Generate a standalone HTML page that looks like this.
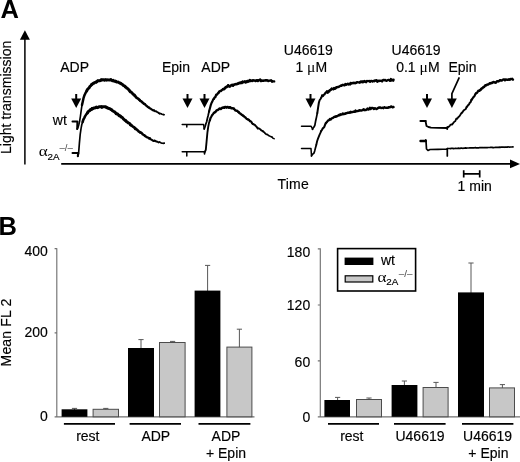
<!DOCTYPE html>
<html><head><meta charset="utf-8"><title>Figure</title>
<style>
html,body{margin:0;padding:0;background:#fff;}
svg{display:block;}
text{font-family:"Liberation Sans",Arial,sans-serif;fill:#000;}
.t{font-size:14px;stroke:#000;stroke-width:0.15px;}
.s{font-size:9px;stroke:#000;stroke-width:0.15px;}
.sup{fill:#444;stroke:none;}
.a{font-size:14.5px;}
.mu{font-size:15.5px;stroke-width:0;}
.gr{font-family:"Liberation Serif","DejaVu Serif",serif;}
.b{font-size:25.5px;font-weight:bold;}
</style></head><body>
<svg width="520" height="462" viewBox="0 0 520 462">
<rect width="520" height="462" fill="#fff"/>
<!-- Panel A -->
<text class="b" x="0.4" y="17.8">A</text>
<text class="t" transform="translate(10.5,154) rotate(-90)" letter-spacing="0.03">Light transmission</text>
<line x1="24.9" y1="38" x2="24.9" y2="164.5" stroke="#000" stroke-width="1.5"/>
<polygon points="24.9,30.3 19.9,39.8 29.9,39.8" fill="#000"/>
<line x1="61.2" y1="163.9" x2="512" y2="163.9" stroke="#000" stroke-width="1.7"/>
<polygon points="520,163.9 510,159.5 510,168.3" fill="#000"/>
<text class="t" x="60.2" y="71.8">ADP</text>
<text class="t" x="161.9" y="71.8">Epin</text>
<text class="t" x="201.3" y="71.8">ADP</text>
<text class="t" x="283.8" y="54.6">U46619</text>
<text class="t" x="295.4" y="71.8">1 <tspan class="gr mu">μ</tspan><tspan dx="0.2">M</tspan></text>
<text class="t" x="391.6" y="54.6">U46619</text>
<text class="t" x="396.2" y="71.8">0.1 <tspan class="gr mu">μ</tspan><tspan dx="0.2">M</tspan></text>
<text class="t" x="448.5" y="71.8">Epin</text>
<text class="t" x="52.8" y="124.6">wt</text>
<text class="gr a" x="38.8" y="156.2" textLength="9" lengthAdjust="spacingAndGlyphs">α</text><text class="s" x="47.5" y="160.4" textLength="12" lengthAdjust="spacingAndGlyphs">2A</text><text class="s sup" x="59.5" y="151.2" textLength="13.4" lengthAdjust="spacingAndGlyphs">–/–</text>
<text class="t" x="277.5" y="188.9" letter-spacing="0.2">Time</text>
<text class="t" x="457.6" y="191.4">1 min</text>
<path d="M463.6,173.9H479.8M463.7,170.3V177.6M479.7,170.3V177.6" stroke="#000" stroke-width="1.7" fill="none"/>
<polyline points="72.5,121.5 77.4,121.5 77.2,129.0 77.2,129.0" fill="none" stroke="#000" stroke-width="2.0" stroke-linejoin="round" stroke-linecap="round" />
<polyline points="77.2,129.0 78.0,127.6 78.8,124.8 79.6,121.3 80.4,116.3 81.2,110.3 82.0,105.0" fill="none" stroke="#000" stroke-width="1.63" stroke-linejoin="round" stroke-linecap="round" />
<polyline points="82.0,105.0 82.8,101.4 83.6,97.8 84.4,95.4 85.2,93.7 86.0,92.2 86.8,90.8" fill="none" stroke="#000" stroke-width="2.48" stroke-linejoin="round" stroke-linecap="round" />
<polyline points="86.8,90.8 87.6,89.3 88.4,88.5 89.2,87.7 90.0,86.3 90.8,85.7 91.6,84.6" fill="none" stroke="#000" stroke-width="2.93" stroke-linejoin="round" stroke-linecap="round" />
<polyline points="91.6,84.6 92.4,84.0 93.2,83.3 94.0,83.2 94.8,82.4 95.6,82.3 96.4,81.9" fill="none" stroke="#000" stroke-width="2.99" stroke-linejoin="round" stroke-linecap="round" />
<polyline points="96.4,81.9 97.2,81.4 98.0,80.6 98.8,80.8 99.6,80.7 100.4,80.5 101.2,79.9" fill="none" stroke="#000" stroke-width="2.98" stroke-linejoin="round" stroke-linecap="round" />
<polyline points="101.2,79.9 102.0,80.0 102.8,79.7 103.6,79.7 104.4,80.2 105.2,79.7 106.0,79.9" fill="none" stroke="#000" stroke-width="2.97" stroke-linejoin="round" stroke-linecap="round" />
<polyline points="106.0,79.9 106.8,80.1 107.6,79.8 108.4,79.9 109.2,79.9 110.0,79.9 110.8,79.7" fill="none" stroke="#000" stroke-width="2.95" stroke-linejoin="round" stroke-linecap="round" />
<polyline points="110.8,79.7 111.6,80.2 112.4,80.7 113.2,80.3 114.0,81.1 114.8,81.2 115.6,81.2" fill="none" stroke="#000" stroke-width="2.94" stroke-linejoin="round" stroke-linecap="round" />
<polyline points="115.6,81.2 116.4,82.1 117.2,82.1 118.0,81.9 118.8,82.5 119.6,83.0 120.4,83.2" fill="none" stroke="#000" stroke-width="2.93" stroke-linejoin="round" stroke-linecap="round" />
<polyline points="120.4,83.2 121.2,83.8 122.0,84.1 122.8,84.8 123.6,85.6 124.4,85.8 125.2,86.7" fill="none" stroke="#000" stroke-width="2.92" stroke-linejoin="round" stroke-linecap="round" />
<polyline points="125.2,86.7 126.0,87.3 126.8,88.1 127.6,88.5 128.4,89.4 129.2,90.2 130.0,91.3" fill="none" stroke="#000" stroke-width="2.91" stroke-linejoin="round" stroke-linecap="round" />
<polyline points="130.0,91.3 130.8,92.2 131.6,92.3 132.4,93.3 133.2,94.4 134.0,94.6 134.8,95.7" fill="none" stroke="#000" stroke-width="2.82" stroke-linejoin="round" stroke-linecap="round" />
<polyline points="134.8,95.7 135.6,96.5 136.4,97.6 137.2,98.1 138.0,98.6 138.8,99.3 139.6,100.0" fill="none" stroke="#000" stroke-width="2.65" stroke-linejoin="round" stroke-linecap="round" />
<polyline points="139.6,100.0 140.4,101.1 141.2,101.3 142.0,102.0 142.8,102.8 143.6,103.4 144.4,104.0" fill="none" stroke="#000" stroke-width="2.48" stroke-linejoin="round" stroke-linecap="round" />
<polyline points="144.4,104.0 145.2,104.4 146.0,105.4 146.8,105.9 147.6,106.9 148.4,107.3 149.2,107.7" fill="none" stroke="#000" stroke-width="2.31" stroke-linejoin="round" stroke-linecap="round" />
<polyline points="149.2,107.7 150.0,108.4 150.8,108.7 151.6,109.5 152.4,109.8 153.2,110.4 154.0,110.4" fill="none" stroke="#000" stroke-width="2.12" stroke-linejoin="round" stroke-linecap="round" />
<polyline points="154.0,110.4 154.8,111.2 155.6,111.1 156.4,111.4 157.2,112.2 158.0,112.4 158.8,113.0" fill="none" stroke="#000" stroke-width="1.88" stroke-linejoin="round" stroke-linecap="round" />
<polyline points="158.8,113.0 159.6,113.8 160.4,113.4 161.2,113.7 162.0,114.2 162.8,114.5 163.6,114.6" fill="none" stroke="#000" stroke-width="1.64" stroke-linejoin="round" stroke-linecap="round" />
<polyline points="163.6,114.6 164.2,114.7" fill="none" stroke="#000" stroke-width="1.5" stroke-linejoin="round" stroke-linecap="round" />
<polyline points="72.5,153.0 78.2,153.0 77.8,156.0 77.8,156.2" fill="none" stroke="#000" stroke-width="2.0" stroke-linejoin="round" stroke-linecap="round" />
<polyline points="77.8,156.2 78.6,153.4 79.4,143.1 80.2,134.4 81.0,128.8 81.8,124.5 82.6,122.0" fill="none" stroke="#000" stroke-width="1.66" stroke-linejoin="round" stroke-linecap="round" />
<polyline points="82.6,122.0 83.4,119.5 84.2,118.1 85.0,116.4 85.8,115.1 86.6,113.8 87.4,113.0" fill="none" stroke="#000" stroke-width="2.55" stroke-linejoin="round" stroke-linecap="round" />
<polyline points="87.4,113.0 88.2,111.6 89.0,111.0 89.8,110.7 90.6,109.4 91.4,109.6 92.2,108.5" fill="none" stroke="#000" stroke-width="2.98" stroke-linejoin="round" stroke-linecap="round" />
<polyline points="92.2,108.5 93.0,108.7 93.8,108.0 94.6,108.1 95.4,107.7 96.2,107.1 97.0,107.6" fill="none" stroke="#000" stroke-width="2.99" stroke-linejoin="round" stroke-linecap="round" />
<polyline points="97.0,107.6 97.8,107.5 98.6,107.0 99.4,106.8 100.2,106.8 101.0,106.6 101.8,107.1" fill="none" stroke="#000" stroke-width="2.98" stroke-linejoin="round" stroke-linecap="round" />
<polyline points="101.8,107.1 102.6,106.7 103.4,106.8 104.2,106.7 105.0,106.7 105.8,106.7 106.6,107.6" fill="none" stroke="#000" stroke-width="2.96" stroke-linejoin="round" stroke-linecap="round" />
<polyline points="106.6,107.6 107.4,107.6 108.2,108.3 109.0,108.5 109.8,108.7 110.6,109.3 111.4,109.7" fill="none" stroke="#000" stroke-width="2.95" stroke-linejoin="round" stroke-linecap="round" />
<polyline points="111.4,109.7 112.2,110.4 113.0,110.9 113.8,111.5 114.6,111.9 115.4,112.6 116.2,113.7" fill="none" stroke="#000" stroke-width="2.94" stroke-linejoin="round" stroke-linecap="round" />
<polyline points="116.2,113.7 117.0,113.7 117.8,114.1 118.6,115.1 119.4,115.9 120.2,115.8 121.0,116.8" fill="none" stroke="#000" stroke-width="2.93" stroke-linejoin="round" stroke-linecap="round" />
<polyline points="121.0,116.8 121.8,117.3 122.6,117.8 123.4,119.1 124.2,119.6 125.0,120.3 125.8,120.8" fill="none" stroke="#000" stroke-width="2.92" stroke-linejoin="round" stroke-linecap="round" />
<polyline points="125.8,120.8 126.6,121.7 127.4,122.1 128.2,122.8 129.0,123.1 129.8,123.7 130.6,125.0" fill="none" stroke="#000" stroke-width="2.9" stroke-linejoin="round" stroke-linecap="round" />
<polyline points="130.6,125.0 131.4,125.2 132.2,126.0 133.0,126.6 133.8,127.1 134.6,127.8 135.4,128.7" fill="none" stroke="#000" stroke-width="2.8" stroke-linejoin="round" stroke-linecap="round" />
<polyline points="135.4,128.7 136.2,129.1 137.0,129.7 137.8,130.4 138.6,131.3 139.4,131.8 140.2,132.4" fill="none" stroke="#000" stroke-width="2.63" stroke-linejoin="round" stroke-linecap="round" />
<polyline points="140.2,132.4 141.0,132.7 141.8,133.1 142.6,134.3 143.4,134.8 144.2,135.1 145.0,135.9" fill="none" stroke="#000" stroke-width="2.46" stroke-linejoin="round" stroke-linecap="round" />
<polyline points="145.0,135.9 145.8,136.5 146.6,137.0 147.4,137.5 148.2,137.7 149.0,138.6 149.8,138.3" fill="none" stroke="#000" stroke-width="2.29" stroke-linejoin="round" stroke-linecap="round" />
<polyline points="149.8,138.3 150.6,139.3 151.4,139.6 152.2,140.1 153.0,140.7 153.8,141.0 154.6,140.7" fill="none" stroke="#000" stroke-width="2.09" stroke-linejoin="round" stroke-linecap="round" />
<polyline points="154.6,140.7 155.4,140.8 156.2,141.7 157.0,141.5 157.8,142.0 158.6,142.5 159.4,142.1" fill="none" stroke="#000" stroke-width="1.85" stroke-linejoin="round" stroke-linecap="round" />
<polyline points="159.4,142.1 160.2,142.2 161.0,143.0 161.8,143.1 162.6,143.2 163.4,143.4 164.2,143.3" fill="none" stroke="#000" stroke-width="1.61" stroke-linejoin="round" stroke-linecap="round" />
<polyline points="164.2,143.3 164.2,143.1" fill="none" stroke="#000" stroke-width="1.5" stroke-linejoin="round" stroke-linecap="round" />
<polyline points="182.2,124.5 186.8,124.5 186.8,127.0 186.8,124.5 203.6,124.5 204.2,129.0 204.2,128.9" fill="none" stroke="#000" stroke-width="1.5" stroke-linejoin="round" stroke-linecap="round" />
<polyline points="204.2,128.9 205.0,126.7 205.8,124.0 206.6,122.0 207.4,118.4 208.2,115.3 209.0,111.6" fill="none" stroke="#000" stroke-width="1.8" stroke-linejoin="round" stroke-linecap="round" />
<polyline points="209.0,111.6 209.8,108.7 210.6,105.7 211.4,103.3 212.2,101.8 213.0,99.8 213.8,98.9" fill="none" stroke="#000" stroke-width="2.16" stroke-linejoin="round" stroke-linecap="round" />
<polyline points="213.8,98.9 214.6,97.6 215.4,97.1 216.2,94.7 217.0,94.7 217.8,93.5 218.6,92.7" fill="none" stroke="#000" stroke-width="2.33" stroke-linejoin="round" stroke-linecap="round" />
<polyline points="218.6,92.7 219.4,91.4 220.2,91.1 221.0,91.0 221.8,90.0 222.6,89.6 223.4,89.0" fill="none" stroke="#000" stroke-width="2.48" stroke-linejoin="round" stroke-linecap="round" />
<polyline points="223.4,89.0 224.2,89.1 225.0,88.2 225.8,87.0 226.6,87.2 227.4,86.3 228.2,85.5" fill="none" stroke="#000" stroke-width="2.6" stroke-linejoin="round" stroke-linecap="round" />
<polyline points="228.2,85.5 229.0,86.3 229.8,86.7 230.6,85.9 231.4,85.1 232.2,84.9 233.0,85.5" fill="none" stroke="#000" stroke-width="2.6" stroke-linejoin="round" stroke-linecap="round" />
<polyline points="233.0,85.5 233.8,84.8 234.6,84.5 235.4,84.2 236.2,84.0 237.0,84.1 237.8,83.7" fill="none" stroke="#000" stroke-width="2.6" stroke-linejoin="round" stroke-linecap="round" />
<polyline points="237.8,83.7 238.6,83.4 239.4,82.7 240.2,83.1 241.0,82.4 241.8,83.0 242.6,81.8" fill="none" stroke="#000" stroke-width="2.6" stroke-linejoin="round" stroke-linecap="round" />
<polyline points="242.6,81.8 243.4,82.1 244.2,82.0 245.0,81.3 245.8,82.4 246.6,82.1 247.4,81.2" fill="none" stroke="#000" stroke-width="2.6" stroke-linejoin="round" stroke-linecap="round" />
<polyline points="247.4,81.2 248.2,81.6 249.0,81.3 249.8,80.0 250.6,81.0 251.4,80.8 252.2,80.8" fill="none" stroke="#000" stroke-width="2.6" stroke-linejoin="round" stroke-linecap="round" />
<polyline points="252.2,80.8 253.0,80.3 253.8,80.5 254.6,80.5 255.4,81.0 256.2,80.6 257.0,80.4" fill="none" stroke="#000" stroke-width="2.6" stroke-linejoin="round" stroke-linecap="round" />
<polyline points="257.0,80.4 257.8,81.0 258.6,80.2 259.4,80.2 260.2,79.7 261.0,81.0 261.8,80.8" fill="none" stroke="#000" stroke-width="2.6" stroke-linejoin="round" stroke-linecap="round" />
<polyline points="261.8,80.8 262.6,80.8 263.4,80.7 264.2,80.4 265.0,80.5 265.8,80.3 266.6,80.3" fill="none" stroke="#000" stroke-width="2.52" stroke-linejoin="round" stroke-linecap="round" />
<polyline points="266.6,80.3 267.4,80.4 268.2,81.0 269.0,80.7 269.8,80.6 270.6,80.5 271.4,80.6" fill="none" stroke="#000" stroke-width="2.42" stroke-linejoin="round" stroke-linecap="round" />
<polyline points="271.4,80.6 272.2,81.7 273.0,81.4 273.8,81.4 274.2,81.4" fill="none" stroke="#000" stroke-width="2.34" stroke-linejoin="round" stroke-linecap="round" />
<polyline points="182.2,151.8 186.8,151.8 186.8,156.0 186.8,151.8 204.2,151.8 204.5,154.0 205.0,151.8 205.0,151.5" fill="none" stroke="#000" stroke-width="1.5" stroke-linejoin="round" stroke-linecap="round" />
<polyline points="205.0,151.5 205.8,149.9 206.6,141.3 207.4,132.7 208.2,127.0 209.0,122.9 209.8,120.3" fill="none" stroke="#000" stroke-width="1.86" stroke-linejoin="round" stroke-linecap="round" />
<polyline points="209.8,120.3 210.6,117.8 211.4,116.5 212.2,114.9 213.0,114.3 213.8,112.8 214.6,112.5" fill="none" stroke="#000" stroke-width="2.2" stroke-linejoin="round" stroke-linecap="round" />
<polyline points="214.6,112.5 215.4,112.0 216.2,110.8 217.0,110.2 217.8,110.0 218.6,109.5 219.4,108.8" fill="none" stroke="#000" stroke-width="2.32" stroke-linejoin="round" stroke-linecap="round" />
<polyline points="219.4,108.8 220.2,108.8 221.0,109.0 221.8,108.0 222.6,107.8 223.4,107.4 224.2,107.7" fill="none" stroke="#000" stroke-width="2.43" stroke-linejoin="round" stroke-linecap="round" />
<polyline points="224.2,107.7 225.0,107.1 225.8,107.0 226.6,107.6 227.4,106.9 228.2,107.4 229.0,107.6" fill="none" stroke="#000" stroke-width="2.48" stroke-linejoin="round" stroke-linecap="round" />
<polyline points="229.0,107.6 229.8,107.2 230.6,107.5 231.4,108.3 232.2,108.1 233.0,108.4 233.8,108.7" fill="none" stroke="#000" stroke-width="2.44" stroke-linejoin="round" stroke-linecap="round" />
<polyline points="233.8,108.7 234.6,109.5 235.4,110.4 236.2,110.8 237.0,110.8 237.8,111.4 238.6,112.2" fill="none" stroke="#000" stroke-width="2.39" stroke-linejoin="round" stroke-linecap="round" />
<polyline points="238.6,112.2 239.4,113.0 240.2,113.5 241.0,114.2 241.8,114.9 242.6,115.3 243.4,115.9" fill="none" stroke="#000" stroke-width="2.34" stroke-linejoin="round" stroke-linecap="round" />
<polyline points="243.4,115.9 244.2,116.6 245.0,117.1 245.8,117.9 246.6,118.9 247.4,119.1 248.2,119.6" fill="none" stroke="#000" stroke-width="2.28" stroke-linejoin="round" stroke-linecap="round" />
<polyline points="248.2,119.6 249.0,119.8 249.8,121.1 250.6,121.1 251.4,122.0 252.2,123.4 253.0,124.0" fill="none" stroke="#000" stroke-width="2.14" stroke-linejoin="round" stroke-linecap="round" />
<polyline points="253.0,124.0 253.8,124.5 254.6,124.7 255.4,125.7 256.2,126.3 257.0,127.3 257.8,128.4" fill="none" stroke="#000" stroke-width="1.99" stroke-linejoin="round" stroke-linecap="round" />
<polyline points="257.8,128.4 258.6,128.4 259.4,128.7 260.2,129.2 261.0,130.1 261.8,130.6 262.6,130.9" fill="none" stroke="#000" stroke-width="1.85" stroke-linejoin="round" stroke-linecap="round" />
<polyline points="262.6,130.9 263.4,131.9 264.2,132.1 265.0,133.3 265.8,133.9 266.6,134.4 267.4,134.5" fill="none" stroke="#000" stroke-width="1.71" stroke-linejoin="round" stroke-linecap="round" />
<polyline points="267.4,134.5 268.2,135.3 269.0,135.7 269.8,136.1 270.6,136.6 271.4,136.8 272.2,137.2" fill="none" stroke="#000" stroke-width="1.56" stroke-linejoin="round" stroke-linecap="round" />
<polyline points="272.2,137.2 273.0,138.3 273.8,138.4 274.2,138.8" fill="none" stroke="#000" stroke-width="1.44" stroke-linejoin="round" stroke-linecap="round" />
<polyline points="301.5,126.2 311.0,126.2 312.5,128.8 312.5,129.3" fill="none" stroke="#000" stroke-width="1.5" stroke-linejoin="round" stroke-linecap="round" />
<polyline points="312.5,129.3 313.3,127.6 314.1,126.9 314.9,125.2 315.7,120.7 316.5,117.1 317.3,113.1" fill="none" stroke="#000" stroke-width="1.75" stroke-linejoin="round" stroke-linecap="round" />
<polyline points="317.3,113.1 318.1,107.6 318.9,102.5 319.7,100.0 320.5,99.0 321.3,97.6 322.1,95.5" fill="none" stroke="#000" stroke-width="1.99" stroke-linejoin="round" stroke-linecap="round" />
<polyline points="322.1,95.5 322.9,96.1 323.7,94.9 324.5,94.4 325.3,93.0 326.1,92.5 326.9,91.5" fill="none" stroke="#000" stroke-width="2.18" stroke-linejoin="round" stroke-linecap="round" />
<polyline points="326.9,91.5 327.7,92.7 328.5,91.0 329.3,91.4 330.1,89.9 330.9,89.9 331.7,88.7" fill="none" stroke="#000" stroke-width="2.37" stroke-linejoin="round" stroke-linecap="round" />
<polyline points="331.7,88.7 332.5,89.0 333.3,89.3 334.1,88.0 334.9,88.8 335.7,88.2 336.5,87.3" fill="none" stroke="#000" stroke-width="2.39" stroke-linejoin="round" stroke-linecap="round" />
<polyline points="336.5,87.3 337.3,87.2 338.1,87.0 338.9,86.8 339.7,86.2 340.5,85.8 341.3,85.7" fill="none" stroke="#000" stroke-width="2.39" stroke-linejoin="round" stroke-linecap="round" />
<polyline points="341.3,85.7 342.1,85.1 342.9,84.8 343.7,85.1 344.5,85.4 345.3,84.1 346.1,84.6" fill="none" stroke="#000" stroke-width="2.38" stroke-linejoin="round" stroke-linecap="round" />
<polyline points="346.1,84.6 346.9,84.2 347.7,83.8 348.5,84.5 349.3,83.7 350.1,84.4 350.9,83.1" fill="none" stroke="#000" stroke-width="2.37" stroke-linejoin="round" stroke-linecap="round" />
<polyline points="350.9,83.1 351.7,83.5 352.5,83.1 353.3,82.7 354.1,83.2 354.9,82.8 355.7,83.0" fill="none" stroke="#000" stroke-width="2.36" stroke-linejoin="round" stroke-linecap="round" />
<polyline points="355.7,83.0 356.5,82.6 357.3,82.1 358.1,82.4 358.9,82.4 359.7,82.7 360.5,81.8" fill="none" stroke="#000" stroke-width="2.36" stroke-linejoin="round" stroke-linecap="round" />
<polyline points="360.5,81.8 361.3,82.1 362.1,81.3 362.9,82.3 363.7,81.4 364.5,81.0 365.3,81.8" fill="none" stroke="#000" stroke-width="2.35" stroke-linejoin="round" stroke-linecap="round" />
<polyline points="365.3,81.8 366.1,82.2 366.9,81.0 367.7,81.1 368.5,81.2 369.3,81.0 370.1,81.6" fill="none" stroke="#000" stroke-width="2.34" stroke-linejoin="round" stroke-linecap="round" />
<polyline points="370.1,81.6 370.9,81.0 371.7,81.0 372.5,81.5 373.3,80.9 374.1,81.3 374.9,80.7" fill="none" stroke="#000" stroke-width="2.33" stroke-linejoin="round" stroke-linecap="round" />
<polyline points="374.9,80.7 375.7,80.5 376.5,80.2 377.3,81.8 378.1,80.7 378.9,81.0 379.7,80.8" fill="none" stroke="#000" stroke-width="2.33" stroke-linejoin="round" stroke-linecap="round" />
<polyline points="379.7,80.8 380.5,80.8 381.3,80.7 382.1,81.5 382.9,80.2 383.7,79.9 384.5,80.1" fill="none" stroke="#000" stroke-width="2.32" stroke-linejoin="round" stroke-linecap="round" />
<polyline points="384.5,80.1 385.3,79.9 386.1,80.8 386.9,80.8 387.7,80.0 388.5,79.8 389.3,80.2" fill="none" stroke="#000" stroke-width="2.31" stroke-linejoin="round" stroke-linecap="round" />
<polyline points="389.3,80.2 390.1,80.9 390.9,79.0 391.7,80.5 392.5,79.8 393.3,80.7 393.6,79.7" fill="none" stroke="#000" stroke-width="2.3" stroke-linejoin="round" stroke-linecap="round" />
<polyline points="301.5,148.6 311.0,148.6 311.5,156.0 311.5,155.9" fill="none" stroke="#000" stroke-width="1.5" stroke-linejoin="round" stroke-linecap="round" />
<polyline points="311.5,155.9 312.3,154.6 313.1,153.7 313.9,153.3 314.7,150.9 315.5,147.8 316.3,144.9" fill="none" stroke="#000" stroke-width="1.71" stroke-linejoin="round" stroke-linecap="round" />
<polyline points="316.3,144.9 317.1,141.2 317.9,138.9 318.7,136.9 319.5,134.9 320.3,133.2 321.1,131.1" fill="none" stroke="#000" stroke-width="1.88" stroke-linejoin="round" stroke-linecap="round" />
<polyline points="321.1,131.1 321.9,130.0 322.7,128.6 323.5,127.8 324.3,126.8 325.1,124.6 325.9,123.1" fill="none" stroke="#000" stroke-width="2.06" stroke-linejoin="round" stroke-linecap="round" />
<polyline points="325.9,123.1 326.7,122.3 327.5,121.2 328.3,120.4 329.1,120.1 329.9,119.0 330.7,119.3" fill="none" stroke="#000" stroke-width="2.25" stroke-linejoin="round" stroke-linecap="round" />
<polyline points="330.7,119.3 331.5,118.5 332.3,118.2 333.1,117.7 333.9,117.1 334.7,116.7 335.5,116.7" fill="none" stroke="#000" stroke-width="2.4" stroke-linejoin="round" stroke-linecap="round" />
<polyline points="335.5,116.7 336.3,116.2 337.1,116.2 337.9,115.8 338.7,115.0 339.5,115.3 340.3,114.5" fill="none" stroke="#000" stroke-width="2.39" stroke-linejoin="round" stroke-linecap="round" />
<polyline points="340.3,114.5 341.1,114.6 341.9,114.5 342.7,113.5 343.5,114.2 344.3,114.0 345.1,113.7" fill="none" stroke="#000" stroke-width="2.38" stroke-linejoin="round" stroke-linecap="round" />
<polyline points="345.1,113.7 345.9,113.3 346.7,113.2 347.5,112.7 348.3,112.8 349.1,112.5 349.9,112.6" fill="none" stroke="#000" stroke-width="2.37" stroke-linejoin="round" stroke-linecap="round" />
<polyline points="349.9,112.6 350.7,111.8 351.5,112.3 352.3,112.1 353.1,111.8 353.9,111.5 354.7,111.8" fill="none" stroke="#000" stroke-width="2.37" stroke-linejoin="round" stroke-linecap="round" />
<polyline points="354.7,111.8 355.5,110.6 356.3,111.4 357.1,111.1 357.9,111.0 358.7,110.9 359.5,110.3" fill="none" stroke="#000" stroke-width="2.36" stroke-linejoin="round" stroke-linecap="round" />
<polyline points="359.5,110.3 360.3,110.3 361.1,110.6 361.9,110.3 362.7,110.1 363.5,109.2 364.3,110.0" fill="none" stroke="#000" stroke-width="2.35" stroke-linejoin="round" stroke-linecap="round" />
<polyline points="364.3,110.0 365.1,110.2 365.9,110.0 366.7,109.5 367.5,108.6 368.3,109.6 369.1,109.0" fill="none" stroke="#000" stroke-width="2.34" stroke-linejoin="round" stroke-linecap="round" />
<polyline points="369.1,109.0 369.9,107.8 370.7,109.0 371.5,108.0 372.3,108.0 373.1,108.2 373.9,109.0" fill="none" stroke="#000" stroke-width="2.34" stroke-linejoin="round" stroke-linecap="round" />
<polyline points="373.9,109.0 374.7,108.2 375.5,108.4 376.3,109.0 377.1,108.8 377.9,108.0 378.7,107.9" fill="none" stroke="#000" stroke-width="2.33" stroke-linejoin="round" stroke-linecap="round" />
<polyline points="378.7,107.9 379.5,107.3 380.3,107.5 381.1,108.0 381.9,107.9 382.7,107.7 383.5,108.1" fill="none" stroke="#000" stroke-width="2.32" stroke-linejoin="round" stroke-linecap="round" />
<polyline points="383.5,108.1 384.3,107.2 385.1,107.5 385.9,107.8 386.7,107.7 387.5,107.8 388.3,107.5" fill="none" stroke="#000" stroke-width="2.31" stroke-linejoin="round" stroke-linecap="round" />
<polyline points="388.3,107.5 389.1,107.1 389.9,107.4 390.7,106.7 391.5,106.4 392.3,107.3 393.1,107.0" fill="none" stroke="#000" stroke-width="2.31" stroke-linejoin="round" stroke-linecap="round" />
<polyline points="393.1,107.0 393.6,107.1" fill="none" stroke="#000" stroke-width="2.3" stroke-linejoin="round" stroke-linecap="round" />
<polyline points="420.5,121.0 425.6,121.0" fill="none" stroke="#000" stroke-width="2.2" stroke-linejoin="round" stroke-linecap="round" />
<polyline points="425.5,121.0 426.5,126.0 428.5,127.0 431.0,127.6 438.0,127.9 447.0,128.0 447.2,129.2 447.4,127.9 447.4,127.2" fill="none" stroke="#000" stroke-width="1.8" stroke-linejoin="round" stroke-linecap="round" />
<polyline points="447.4,127.2 448.2,127.2 449.0,126.5 449.8,125.8 450.6,124.6 451.4,124.6 452.2,124.4" fill="none" stroke="#000" stroke-width="1.73" stroke-linejoin="round" stroke-linecap="round" />
<polyline points="452.2,124.4 453.0,123.4 453.8,122.2 454.6,121.6 455.4,121.0 456.2,118.7 457.0,118.7" fill="none" stroke="#000" stroke-width="1.78" stroke-linejoin="round" stroke-linecap="round" />
<polyline points="457.0,118.7 457.8,117.9 458.6,116.9 459.4,116.2 460.2,115.0 461.0,113.7 461.8,112.8" fill="none" stroke="#000" stroke-width="1.84" stroke-linejoin="round" stroke-linecap="round" />
<polyline points="461.8,112.8 462.6,112.1 463.4,110.7 464.2,110.0 465.0,109.5 465.8,108.9 466.6,107.1" fill="none" stroke="#000" stroke-width="1.89" stroke-linejoin="round" stroke-linecap="round" />
<polyline points="466.6,107.1 467.4,106.1 468.2,105.1 469.0,104.4 469.8,102.8 470.6,102.2 471.4,100.0" fill="none" stroke="#000" stroke-width="2.02" stroke-linejoin="round" stroke-linecap="round" />
<polyline points="471.4,100.0 472.2,99.0 473.0,97.7 473.8,96.8 474.6,95.8 475.4,93.8 476.2,93.2" fill="none" stroke="#000" stroke-width="2.16" stroke-linejoin="round" stroke-linecap="round" />
<polyline points="476.2,93.2 477.0,92.8 477.8,91.6 478.6,90.6 479.4,90.9 480.2,90.0 481.0,89.3" fill="none" stroke="#000" stroke-width="2.34" stroke-linejoin="round" stroke-linecap="round" />
<polyline points="481.0,89.3 481.8,88.2 482.6,88.2 483.4,87.0 484.2,87.0 485.0,85.6 485.8,85.2" fill="none" stroke="#000" stroke-width="2.4" stroke-linejoin="round" stroke-linecap="round" />
<polyline points="485.8,85.2 486.6,85.2 487.4,84.4 488.2,84.5 489.0,84.0 489.8,83.2 490.6,83.2" fill="none" stroke="#000" stroke-width="2.4" stroke-linejoin="round" stroke-linecap="round" />
<polyline points="490.6,83.2 491.4,82.8 492.2,83.0 493.0,82.1 493.8,81.9 494.6,82.4 495.4,82.6" fill="none" stroke="#000" stroke-width="2.4" stroke-linejoin="round" stroke-linecap="round" />
<polyline points="495.4,82.6 496.2,82.3 497.0,81.3 497.8,81.2 498.6,81.5 499.4,80.7 500.2,80.2" fill="none" stroke="#000" stroke-width="2.4" stroke-linejoin="round" stroke-linecap="round" />
<polyline points="500.2,80.2 501.0,80.5 501.8,80.5 502.6,79.9 503.4,79.5 504.2,79.4 505.0,80.2" fill="none" stroke="#000" stroke-width="2.4" stroke-linejoin="round" stroke-linecap="round" />
<polyline points="505.0,80.2 505.8,79.5 506.6,79.7 507.4,79.7 508.2,79.8 509.0,79.3 509.8,79.6" fill="none" stroke="#000" stroke-width="2.4" stroke-linejoin="round" stroke-linecap="round" />
<polyline points="509.8,79.6 510.6,79.0 511.4,79.1 512.2,78.8 513.0,79.7" fill="none" stroke="#000" stroke-width="2.4" stroke-linejoin="round" stroke-linecap="round" />
<polyline points="420.5,141.0 425.8,141.0" fill="none" stroke="#000" stroke-width="2.4" stroke-linejoin="round" stroke-linecap="round" />
<polyline points="425.8,141.0 425.8,139.8 426.0,141.0 426.5,149.0 428.0,150.5 430.0,149.5 438.0,149.3 447.3,149.0 447.3,156.0 447.3,148.6 447.3,148.6" fill="none" stroke="#000" stroke-width="1.7" stroke-linejoin="round" stroke-linecap="round" />
<polyline points="447.3,148.6 448.1,148.5 448.9,148.5 449.7,148.5 450.5,148.6 451.3,148.3 452.1,148.4 452.9,148.4 453.7,148.6 454.5,148.5 455.3,148.3 456.1,148.4 456.9,148.5 457.7,148.3 458.5,148.2 459.3,148.3 460.1,148.3 460.9,148.2 461.7,148.1 462.5,148.3 463.3,148.3 464.1,148.1 464.9,148.1 465.7,147.9 466.5,148.1 467.3,148.0 468.1,148.0 468.9,148.0 469.7,147.9 470.5,147.8 471.3,147.9 472.1,147.8 472.9,147.9 473.7,147.8 474.5,147.8 475.3,147.6 476.1,147.9 476.9,147.8 477.7,147.9 478.5,147.9 479.3,147.7 480.1,147.6 480.9,147.6 481.7,147.6 482.5,147.6 483.3,147.7 484.1,147.5 484.9,147.6 485.7,147.5 486.5,147.6 487.3,147.6 488.1,147.5 488.9,147.5 489.7,147.5 490.5,147.4 491.3,147.3 492.1,147.4 492.9,147.6 493.7,147.6 494.5,147.5 495.3,147.4 496.1,147.3 496.9,147.4 497.7,147.3 498.5,147.3 499.3,147.2 500.1,147.3 500.9,147.2 501.7,147.2 502.5,147.1 503.3,147.1 504.1,147.3 504.9,147.1 505.7,147.1 506.5,147.1 507.3,147.1 508.1,146.9 508.9,147.0 509.7,147.1 510.5,147.0 511.3,147.0 512.1,147.0 512.9,146.8 513.0,146.9" fill="none" stroke="#000" stroke-width="1.7" stroke-linejoin="round" stroke-linecap="round" />
<line x1="76.2" y1="94" x2="76.2" y2="99.5" stroke="#000" stroke-width="2"/><polygon points="71.2,98.5 81.2,98.5 76.2,108" fill="#000"/>
<line x1="187.5" y1="94" x2="187.5" y2="99.5" stroke="#000" stroke-width="2"/><polygon points="182.5,98.5 192.5,98.5 187.5,108" fill="#000"/>
<line x1="204.5" y1="94" x2="204.5" y2="99.5" stroke="#000" stroke-width="2"/><polygon points="199.5,98.5 209.5,98.5 204.5,108" fill="#000"/>
<line x1="310.5" y1="94" x2="310.5" y2="99.5" stroke="#000" stroke-width="2"/><polygon points="305.5,98.5 315.5,98.5 310.5,108" fill="#000"/>
<line x1="427" y1="94" x2="427" y2="99.5" stroke="#000" stroke-width="2"/><polygon points="422.0,98.5 432.0,98.5 427,108" fill="#000"/>
<polyline points="459.3,77.4 451.9,93.6 451.9,99.5" fill="none" stroke="#000" stroke-width="1.7"/><polygon points="447,98.5 456.8,98.5 451.9,108" fill="#000"/>
<!-- Panel B -->
<text class="b" x="-1.5" y="235">B</text>
<text class="t" transform="translate(11,366.4) rotate(-90)" letter-spacing="0.16">Mean FL 2</text>
<text class="t" x="47.8" y="256" text-anchor="end">400</text>
<text class="t" x="47.8" y="336.6" text-anchor="end">200</text>
<text class="t" x="47.8" y="421.4" text-anchor="end">0</text>
<path d="M56.8,248.2V416.8H254.5M54.6,248.6H56.8M54.6,332.8H56.8M54.6,416.8H56.8" stroke="#727272" stroke-width="1.15" fill="none"/>
<text class="t" x="310.2" y="256.6" text-anchor="end">180</text>
<text class="t" x="310.2" y="310" text-anchor="end">120</text>
<text class="t" x="310.2" y="367" text-anchor="end">60</text>
<text class="t" x="310.2" y="421.6" text-anchor="end">0</text>
<path d="M320.3,248.3V416.8H520M317.8,248.8H320.3M317.8,305H320.3M317.8,360.8H320.3M317.8,416.8H320.3" stroke="#727272" stroke-width="1.15" fill="none"/>
<line x1="74.5" y1="408.4" x2="74.5" y2="410" stroke="#585858" stroke-width="1"/><line x1="71.9" y1="408.4" x2="77.1" y2="408.4" stroke="#585858" stroke-width="1"/>
<rect x="61.6" y="409.3" width="25.800000000000004" height="7.5" fill="#000"/>
<line x1="105.8" y1="408.4" x2="105.8" y2="410" stroke="#585858" stroke-width="1"/><line x1="103.2" y1="408.4" x2="108.39999999999999" y2="408.4" stroke="#585858" stroke-width="1"/>
<rect x="93.1" y="409.3" width="25.400000000000006" height="7.5" fill="#c7c7c7" stroke="#4c4c4c" stroke-width="1"/>
<line x1="141" y1="339.6" x2="141" y2="349" stroke="#585858" stroke-width="1"/><line x1="138.4" y1="339.6" x2="143.6" y2="339.6" stroke="#585858" stroke-width="1"/>
<rect x="128" y="348" width="26" height="68.80000000000001" fill="#000"/>
<line x1="172.6" y1="341.4" x2="172.6" y2="343" stroke="#585858" stroke-width="1"/><line x1="170.0" y1="341.4" x2="175.2" y2="341.4" stroke="#585858" stroke-width="1"/>
<rect x="159.5" y="342.5" width="25.599999999999994" height="74.30000000000001" fill="#c7c7c7" stroke="#4c4c4c" stroke-width="1"/>
<line x1="207.6" y1="265.4" x2="207.6" y2="292" stroke="#585858" stroke-width="1"/><line x1="205.0" y1="265.4" x2="210.2" y2="265.4" stroke="#585858" stroke-width="1"/>
<rect x="194.6" y="290.6" width="25.80000000000001" height="126.19999999999999" fill="#000"/>
<line x1="239.4" y1="329.2" x2="239.4" y2="348" stroke="#585858" stroke-width="1"/><line x1="236.8" y1="329.2" x2="242.0" y2="329.2" stroke="#585858" stroke-width="1"/>
<rect x="226.9" y="347.1" width="25.0" height="69.69999999999999" fill="#c7c7c7" stroke="#4c4c4c" stroke-width="1"/>
<line x1="337.6" y1="397.4" x2="337.6" y2="401" stroke="#585858" stroke-width="1"/><line x1="335.0" y1="397.4" x2="340.20000000000005" y2="397.4" stroke="#585858" stroke-width="1"/>
<rect x="324.4" y="400" width="25.600000000000023" height="16.80000000000001" fill="#000"/>
<line x1="369" y1="398" x2="369" y2="400" stroke="#585858" stroke-width="1"/><line x1="366.4" y1="398" x2="371.6" y2="398" stroke="#585858" stroke-width="1"/>
<rect x="356.5" y="399.5" width="25" height="17.30000000000001" fill="#c7c7c7" stroke="#4c4c4c" stroke-width="1"/>
<line x1="404.4" y1="381" x2="404.4" y2="386" stroke="#585858" stroke-width="1"/><line x1="401.79999999999995" y1="381" x2="407.0" y2="381" stroke="#585858" stroke-width="1"/>
<rect x="391.6" y="385" width="25.799999999999955" height="31.80000000000001" fill="#000"/>
<line x1="436" y1="382.4" x2="436" y2="388" stroke="#585858" stroke-width="1"/><line x1="433.4" y1="382.4" x2="438.6" y2="382.4" stroke="#585858" stroke-width="1"/>
<rect x="423.1" y="387.5" width="25.0" height="29.30000000000001" fill="#c7c7c7" stroke="#4c4c4c" stroke-width="1"/>
<line x1="471" y1="263" x2="471" y2="294" stroke="#585858" stroke-width="1"/><line x1="468.4" y1="263" x2="473.6" y2="263" stroke="#585858" stroke-width="1"/>
<rect x="458" y="292.4" width="26" height="124.40000000000003" fill="#000"/>
<line x1="502.4" y1="384.6" x2="502.4" y2="388.5" stroke="#585858" stroke-width="1"/><line x1="499.79999999999995" y1="384.6" x2="505.0" y2="384.6" stroke="#585858" stroke-width="1"/>
<rect x="489.5" y="387.9" width="25" height="28.900000000000034" fill="#c7c7c7" stroke="#4c4c4c" stroke-width="1"/>
<path d="M63.9,423.9H115M129.6,423.9H181M198.5,423.9H250.4M328,423.9H379M394,423.9H445.6M462,423.9H513.4" stroke="#000" stroke-width="1.8" fill="none"/>
<text class="t" x="87.8" y="441.3" text-anchor="middle">rest</text>
<text class="t" x="155.8" y="441.3" text-anchor="middle">ADP</text>
<text class="t" x="226" y="441.3" text-anchor="middle">ADP</text>
<text class="t" x="226" y="458.2" text-anchor="middle">+ Epin</text>
<text class="t" x="351.8" y="441.3" text-anchor="middle">rest</text>
<text class="t" x="420" y="441.3" text-anchor="middle">U46619</text>
<text class="t" x="487.6" y="441.3" text-anchor="middle">U46619</text>
<text class="t" x="488.4" y="458.2" text-anchor="middle">+ Epin</text>
<!-- legend -->
<rect x="337.6" y="248.6" width="78" height="42.4" fill="#fff" stroke="#000" stroke-width="1.6"/>
<rect x="344.6" y="257.6" width="28.8" height="7.4" fill="#000"/>
<rect x="345.2" y="275.8" width="27.6" height="6.2" fill="#c8c8c8" stroke="#000" stroke-width="1.2"/>
<text class="t" x="381" y="264.6">wt</text>
<text class="gr a" x="377.5" y="282" textLength="9" lengthAdjust="spacingAndGlyphs">α</text><text class="s" x="386.3" y="285.3" textLength="12" lengthAdjust="spacingAndGlyphs">2A</text><text class="s sup" x="398.7" y="277.4" textLength="13.8" lengthAdjust="spacingAndGlyphs">–/–</text>
</svg>
</body></html>
